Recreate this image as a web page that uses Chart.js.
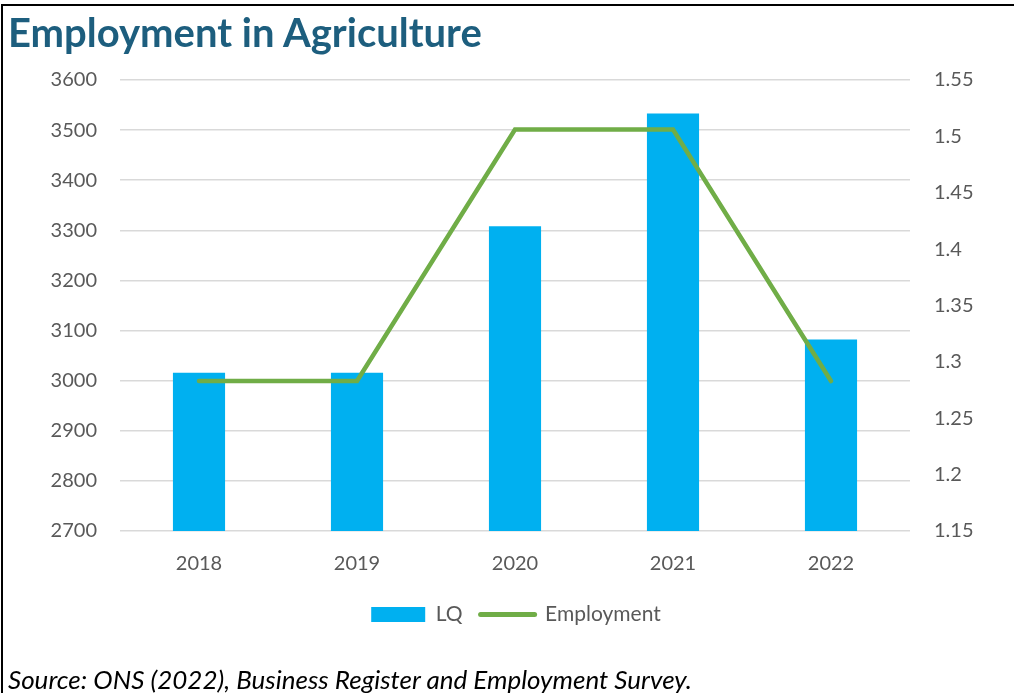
<!DOCTYPE html>
<html lang="en">
  <head>
    <meta charset="UTF-8" />
    <title>Employment in Agriculture</title>
    <script src="https://cdn.jsdelivr.net/npm/chart.js@4.4.0/dist/chart.umd.min.js"></script>
    <style>
      html, body { margin: 0; padding: 0; background: #fff; }
      #wrap { position: relative; width: 1014px; height: 693px; overflow: hidden; }
      #frame { position: absolute; left: 1px; top: 4px; right: 0; bottom: 0;
               border-top: 2px solid #000; border-left: 2px solid #000; }
      #title { position: absolute; left: 8px; top: 8px; font-family: Lato, sans-serif;
               font-weight: bold; font-size: 40px; color: #1d5e7e; white-space: nowrap; }
      #source { position: absolute; left: 8px; top: 663px; font-family: Lato, sans-serif;
                font-style: italic; font-size: 26px; color: #000; white-space: nowrap; }
      canvas { position: absolute; left: 0; top: 0; }
    </style>
  </head>
  <body>
    <div id="wrap">
      <canvas id="myChart" width="1014" height="693"></canvas>
      <div id="frame"></div>
      <div id="title">Employment in Agriculture</div>
      <div id="source">Source: ONS (2022), Business Register and Employment Survey.</div>
    </div>

    <script>
      // values
      const years = ['2018', '2019', '2020', '2021', '2022'];
      const lq = [3016, 3016, 3308, 3533, 3082];
      const employment = [1.283, 1.283, 1.506, 1.506, 1.283];

      const tickFont = { family: 'Lato, sans-serif', size: 20 };
      const legendFont = { family: 'Lato, sans-serif', size: 21 };
      const grey = '#595959';

      // centre the legend under the plot area rather than the whole canvas
      const shiftLegend = {
        id: 'shiftLegend',
        afterLayout(chart) {
          chart.legend.left += 9;
          chart.legend.right += 9;
        }
      };

      let ctx = document.getElementById('myChart').getContext('2d');
      let myChart = new Chart(ctx, {
        type: 'bar',
        data: {
          labels: years,
          datasets: [
            {
              type: 'bar',
              label: 'LQ',
              data: lq,
              backgroundColor: '#00b0f0',
              borderWidth: 0,
              categoryPercentage: 1,
              barPercentage: 0.33,
              yAxisID: 'y',
              order: 2
            },
            {
              type: 'line',
              label: 'Employment',
              data: employment,
              borderColor: '#70ad47',
              backgroundColor: '#70ad47',
              borderWidth: 4.5,
              pointRadius: 0,
              borderCapStyle: 'round',
              tension: 0,
              fill: false,
              yAxisID: 'y1',
              order: 1
            }
          ]
        },
        options: {
          responsive: false,
          animation: false,
          devicePixelRatio: 1,
          layout: { padding: { top: 80, left: 0, right: 0, bottom: 58 } },
          plugins: {
            tooltip: { enabled: false },
            title: { display: false },
            legend: {
              position: 'bottom',
              labels: {
                font: legendFont,
                color: grey,
                usePointStyle: true,
                pointStyleWidth: 54,
                boxHeight: 15,
                padding: 18,
                sort: (a, b) => a.datasetIndex - b.datasetIndex,
                generateLabels: function (chart) {
                  let items = Chart.defaults.plugins.legend.labels.generateLabels(chart);
                  items.forEach(function (it) {
                    if (it.datasetIndex === 0) {
                      it.pointStyle = 'rect';
                      it.lineWidth = 0;
                      it.fillStyle = '#00b0f0';
                      it.strokeStyle = '#00b0f0';
                    } else {
                      it.pointStyle = 'line';
                      it.lineWidth = 5;
                      it.lineCap = 'round';
                      it.strokeStyle = '#70ad47';
                    }
                  });
                  return items;
                }
              }
            }
          },
          scales: {
            x: {
              grid: { display: false, drawTicks: false },
              border: { display: false },
              ticks: { font: tickFont, color: grey, padding: 21 },
              afterFit: function (s) { s.height = 55; }
            },
            y: {
              position: 'left',
              min: 2700,
              max: 3600,
              ticks: { stepSize: 100, font: tickFont, color: grey, padding: 23,
                       callback: function (v) { return String(v); } },
              grid: { color: '#d9d9d9', lineWidth: 1.5, drawTicks: false },
              border: { display: false },
              afterFit: function (s) { s.width = 120; }
            },
            y1: {
              position: 'right',
              min: 1.15,
              max: 1.55,
              ticks: { stepSize: 0.05, font: tickFont, color: grey, padding: 24,
                       callback: function (v) { return String(+v.toFixed(2)); } },
              grid: { display: false, drawTicks: false },
              border: { display: false },
              afterFit: function (s) { s.width = 104; }
            }
          }
        },
        plugins: [shiftLegend]
      });
    </script>
  </body>
</html>
